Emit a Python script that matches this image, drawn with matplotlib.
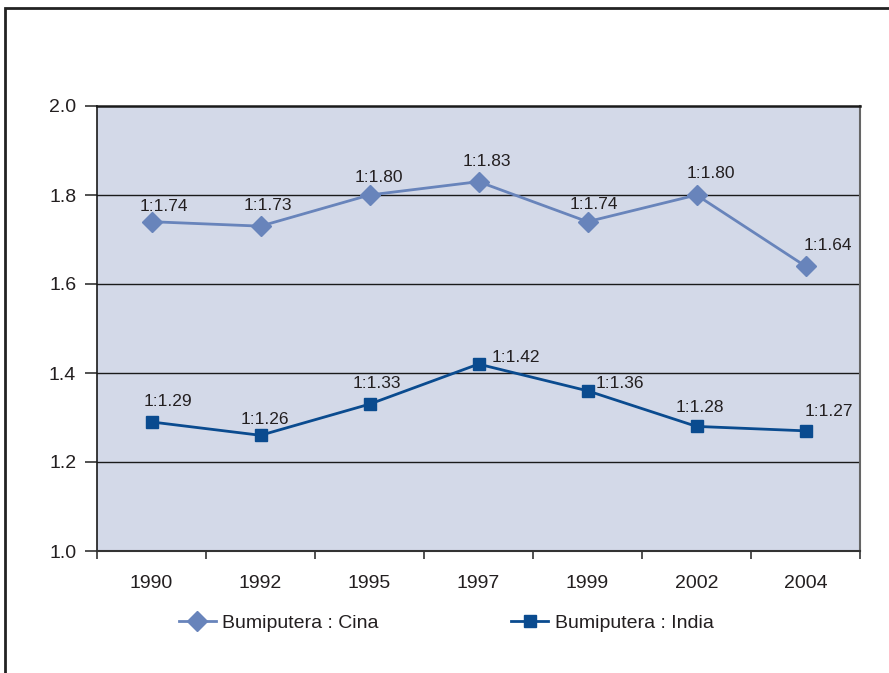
import matplotlib.pyplot as plt
from matplotlib.patches import Rectangle

plt.rcParams['font.family'] = ['Liberation Sans', 'DejaVu Sans']

# Datos
anios = ['1990', '1992', '1995', '1997', '1999', '2002', '2004']
cina = [1.74, 1.73, 1.80, 1.83, 1.74, 1.80, 1.64]
india = [1.29, 1.26, 1.33, 1.42, 1.36, 1.28, 1.27]
etiquetas_cina = ['1:1.74', '1:1.73', '1:1.80', '1:1.83', '1:1.74', '1:1.80', '1:1.64']
etiquetas_india = ['1:1.29', '1:1.26', '1:1.33', '1:1.42', '1:1.36', '1:1.28', '1:1.27']
nombres = ['Bumiputera : Cina', 'Bumiputera : India']
y_ticks = [1.0, 1.2, 1.4, 1.6, 1.8, 2.0]

# desplazamiento de las etiquetas (pixeles)
off_cina = [(12, 15), (7, 21), (9, 18), (8, 20), (6, 17), (14, 22), (22, 21)]
off_india = [(16, 20), (4, 16), (7, 21), (37, 7), (32, 7), (3, 19), (23, 19)]

col_cina = '#6884bb'
col_india = '#0a4b8f'
txt = '#231f20'

fig = plt.figure(figsize=(8.89, 6.73), dpi=100)
ax = fig.add_axes([97/889, 1-551/673, (860-97)/889, (551-106)/673])
ax.set_facecolor('#d3d9e8')

x = list(range(len(anios)))
l1, = ax.plot(x, cina, color=col_cina, lw=2, marker='D', ms=10, label=nombres[0], zorder=3)
l2, = ax.plot(x, india, color=col_india, lw=2, marker='s', ms=9, label=nombres[1], zorder=3)

for i in x:
    ax.annotate(etiquetas_cina[i], (i, cina[i]), xytext=off_cina[i], textcoords='offset pixels',
                ha='center', va='center', fontsize=12.5, color=txt)
    ax.annotate(etiquetas_india[i], (i, india[i]), xytext=off_india[i], textcoords='offset pixels',
                ha='center', va='center', fontsize=12.5, color=txt)

ax.set_xlim(-0.5, len(anios) - 0.5)
ax.set_ylim(1.0, 2.0)
ax.set_yticks(y_ticks)
ax.set_yticklabels(['%.1f' % v for v in y_ticks], fontsize=14, color=txt)
ax.tick_params(axis='y', length=9, width=1.2, color='#333333', pad=6)

ax.set_xticks([i - 0.5 for i in range(len(anios) + 1)])
ax.set_xticklabels([])
ax.set_xticks(x, minor=True)
ax.set_xticklabels(anios, minor=True, fontsize=14, color=txt)
ax.tick_params(axis='x', which='major', length=6, width=1.2, color='#333333')
ax.tick_params(axis='x', which='minor', length=0, pad=17)

for v in y_ticks[1:-1]:
    ax.axhline(v, color='#1a1a1a', lw=1, zorder=1)

ax.spines['top'].set_color('#1a1a1a')
ax.spines['top'].set_linewidth(1.8)
ax.spines['left'].set_color('#1a1a1a')
ax.spines['left'].set_linewidth(1.2)
ax.spines['right'].set_color('#666666')
ax.spines['right'].set_linewidth(1.5)
ax.spines['bottom'].set_color('#333333')
ax.spines['bottom'].set_linewidth(1.5)

fig.legend(handles=[l1, l2], loc='center', bbox_to_anchor=(0.502, 1-623/673), ncol=2,
           frameon=False, fontsize=14, handlelength=1.9, handletextpad=0.35,
           columnspacing=6.8, labelcolor=txt)

# marco exterior
fig.patches.append(Rectangle((5/889, -0.1), 1.1, 1-8/673+0.1, transform=fig.transFigure,
                             fill=False, edgecolor='#222222', lw=2))

fig.savefig('out.png', dpi=100)
